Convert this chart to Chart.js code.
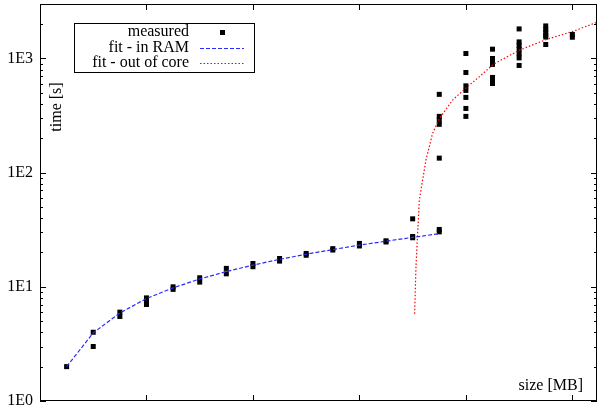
<!DOCTYPE html>
<html>
<head>
<meta charset="utf-8">
<script src="https://cdn.jsdelivr.net/npm/chart.js@4/dist/chart.umd.min.js"></script>
<style>
  html, body { margin: 0; padding: 0; background: #fff; }
  canvas { display: block; }
</style>
</head>
<body>
<canvas id="timeChart" width="601" height="408"></canvas>
<script>
// measured runs: size [MB] and time [s], one entry per run
const measuredSize = [
  256,
  512, 512,
  768, 768,
  1024, 1024, 1024,
  1280, 1280,
  1536, 1536,
  1792, 1792,
  2048, 2048,
  2304, 2304,
  2560, 2560,
  2816, 2816,
  3072, 3072,
  3328, 3328,
  3584, 3584, 3584,
  3840, 3840,
  3840, 3840, 3840, 3840, 3840,
  4096, 4096, 4096, 4096, 4096, 4096, 4096,
  4352, 4352, 4352, 4352, 4352, 4352, 4352,
  4608, 4608, 4608, 4608, 4608, 4608, 4608,
  4864, 4864, 4864, 4864, 4864, 4864,
  5120, 5120
];
const measuredTime = [
  2.0,
  4.0, 3.0,
  6.0, 5.5,
  8.0, 7.5, 7.0,
  10, 9.5,
  12, 11,
  14.5, 13,
  16, 15,
  17.7, 16.8,
  19.6, 18.9,
  21.6, 21.0,
  24, 22.8,
  25.3, 24.7,
  27.6, 26.9, 39.4,
  31.8, 30.3,
  485, 311, 290, 265, 134,
  1105, 754, 576, 525, 456, 365, 311,
  1206, 1000, 940, 887, 682, 640, 604,
  1815, 1397, 1300, 1200, 1100, 1012, 869,
  1928, 1800, 1700, 1600, 1540, 1325,
  1622, 1535
];

// fitted curves
const ramFitSize = [256, 512, 768, 1024, 1280, 1536, 1792, 2048, 2304, 2560, 2816, 3072, 3328, 3584, 3840];
const ramFitTime = [2.0, 3.95, 5.9, 7.9, 9.8, 11.7, 13.6, 15.5, 17.4, 19.3, 21.2, 23.2, 25.1, 27.1, 29.2];

const coreFitSize = [3603, 3616, 3648, 3712, 3776, 3843, 3968, 4102, 4224, 4361, 4611, 4870, 5129, 5357];
const coreFitTime = [5.8, 15.1, 57.7, 129, 221, 299, 432, 557, 690, 891, 1183, 1466, 1733, 2075];

const xTicks = [1024, 2048, 3072, 4096, 5120];
const yTicks = [1, 10, 100, 1000];
const xMax = 5357;
const yMax = 3000;

const legendNames = ['measured', 'fit - in RAM', 'fit - out of core'];

Chart.defaults.font.family = '"Liberation Serif", "DejaVu Serif", serif';
Chart.defaults.font.size = 16;
Chart.defaults.color = '#000';

function toPoints(xs, ys) {
  return xs.map((x, i) => ({x: x, y: ys[i]}));
}

// border, inward ticks, axis titles and the key, gnuplot style
const framePlugin = {
  id: 'frame',
  afterDraw(chart) {
    const c = chart.ctx;
    const a = chart.chartArea;
    const xs = chart.scales.x;
    const ys = chart.scales.y;
    c.save();
    c.strokeStyle = '#000';
    c.lineWidth = 1;
    c.strokeRect(a.left + 0.5, a.top + 0.5, a.right - a.left - 1, a.bottom - a.top - 1);

    c.beginPath();
    xTicks.forEach(v => {
      const px = Math.round(xs.getPixelForValue(v)) + 0.5;
      c.moveTo(px, a.bottom); c.lineTo(px, a.bottom - 6);
      c.moveTo(px, a.top); c.lineTo(px, a.top + 6);
    });
    for (let d = 1; d <= 1000; d *= 10) {
      for (let m = 1; m <= 9; m++) {
        const v = d * m;
        if (v > yMax) break;
        const py = Math.round(ys.getPixelForValue(v)) + 0.5;
        const len = m === 1 ? 6 : 3;
        c.moveTo(a.left, py); c.lineTo(a.left + len, py);
        c.moveTo(a.right, py); c.lineTo(a.right - len, py);
      }
    }
    c.stroke();

    c.fillStyle = '#000';
    c.font = '16px "Liberation Serif", serif';
    c.textBaseline = 'middle';
    c.textAlign = 'right';
    c.fillText('size [MB]', 583, 386);

    c.save();
    c.translate(57, 107);
    c.rotate(-Math.PI / 2);
    c.textAlign = 'center';
    c.fillText('time [s]', 0, 0);
    c.restore();

    // key
    c.strokeRect(74.5, 23.5, 180, 49);
    const rows = [32, 48, 63];
    chart.data.datasets.forEach((ds, i) => {
      const y = rows[i];
      c.textAlign = 'right';
      c.fillStyle = '#000';
      c.fillText(legendNames[i], 189, y);
      if (ds.showLine) {
        c.save();
        c.strokeStyle = ds.borderColor;
        c.lineWidth = ds.borderWidth;
        c.setLineDash(ds.borderDash);
        c.beginPath();
        c.moveTo(200, y + 0.5); c.lineTo(244, y + 0.5);
        c.stroke();
        c.restore();
      } else {
        c.fillRect(220, y - 2, 5, 5);
      }
    });
    c.restore();
  }
};

const ctx = document.getElementById('timeChart').getContext('2d');
const chart = new Chart(ctx, {
  type: 'scatter',
  data: {
    datasets: [{
      label: legendNames[0],
      data: toPoints(measuredSize, measuredTime),
      pointStyle: 'rect',
      pointRadius: 3.54,
      backgroundColor: '#000',
      borderWidth: 0,
      order: 2,
    }, {
      label: legendNames[1],
      data: toPoints(ramFitSize, ramFitTime),
      showLine: true,
      pointRadius: 0,
      borderColor: '#2a2aff',
      borderWidth: 1.2,
      borderDash: [4, 2],
      tension: 0,
      order: 1,
    }, {
      label: legendNames[2],
      data: toPoints(coreFitSize, coreFitTime),
      showLine: true,
      pointRadius: 0,
      borderColor: '#ff0000',
      borderWidth: 1.2,
      borderDash: [1.5, 2],
      tension: 0,
      order: 0,
    }]
  },
  options: {
    responsive: false,
    devicePixelRatio: 1,
    animation: false,
    layout: { padding: { top: 3, right: 3, bottom: 7, left: 0 } },
    scales: {
      x: {
        type: 'linear',
        min: 0,
        max: xMax,
        display: false,
      },
      y: {
        type: 'logarithmic',
        min: 1,
        max: yMax,
        grid: { display: false, drawTicks: false },
        border: { display: false },
        afterFit(scale) {
          scale.width = 40;
          scale.paddingTop = 0;
          scale.paddingBottom = 0;
        },
        afterBuildTicks(scale) { scale.ticks = yTicks.map(v => ({value: v})); },
        ticks: {
          padding: 7,
          autoSkip: false,
          callback: function(val) {
            return '1E' + Math.round(Math.log10(val));
          }
        }
      }
    },
    plugins: {
      legend: { display: false },
      tooltip: { enabled: false }
    }
  },
  plugins: [framePlugin]
});
</script>
</body>
</html>
